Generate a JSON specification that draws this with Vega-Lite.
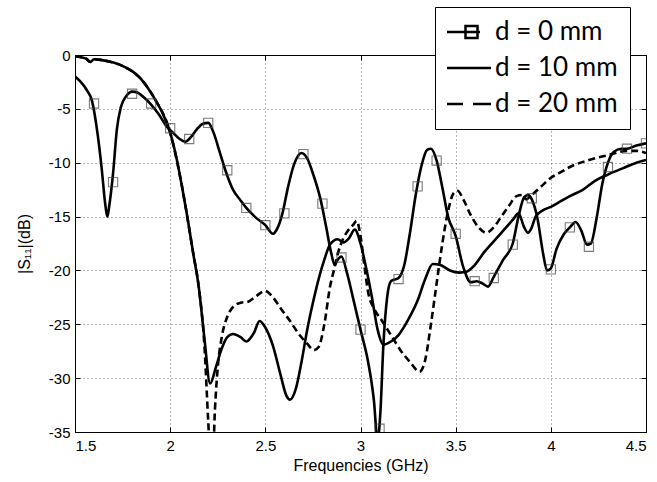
{
  "$schema": "https://vega.github.io/schema/vega-lite/v6.json",
  "width": 571,
  "height": 377,
  "autosize": {"type": "none"},
  "padding": {"left": 75, "top": 55, "right": 11, "bottom": 50},
  "background": "white",
  "config": {
    "view": {"stroke": "black", "strokeWidth": 1},
    "axis": {
      "labelFont": "Liberation Sans",
      "labelFontSize": 15,
      "labelColor": "black",
      "titleFont": "Liberation Sans",
      "titleFontSize": 16,
      "titleFontWeight": "normal",
      "titleColor": "black",
      "domainColor": "black",
      "tickColor": "black",
      "gridColor": "#666666",
      "gridDash": [1, 3],
      "gridOpacity": 1
    }
  },
  "datasets": {
    "solidCurves": [
      {"f": 1.5, "s11": -2.0, "series": "d = 0 mm"},
      {"f": 1.53, "s11": -2.5, "series": "d = 0 mm"},
      {"f": 1.56, "s11": -3.2, "series": "d = 0 mm"},
      {"f": 1.59, "s11": -4.3, "series": "d = 0 mm"},
      {"f": 1.62, "s11": -7.5, "series": "d = 0 mm"},
      {"f": 1.64, "s11": -10.5, "series": "d = 0 mm"},
      {"f": 1.66, "s11": -14.0, "series": "d = 0 mm"},
      {"f": 1.67, "s11": -15.0, "series": "d = 0 mm"},
      {"f": 1.68, "s11": -14.0, "series": "d = 0 mm"},
      {"f": 1.70, "s11": -11.0, "series": "d = 0 mm"},
      {"f": 1.72, "s11": -6.9, "series": "d = 0 mm"},
      {"f": 1.74, "s11": -4.9, "series": "d = 0 mm"},
      {"f": 1.77, "s11": -3.8, "series": "d = 0 mm"},
      {"f": 1.80, "s11": -3.4, "series": "d = 0 mm"},
      {"f": 1.83, "s11": -3.5, "series": "d = 0 mm"},
      {"f": 1.86, "s11": -3.9, "series": "d = 0 mm"},
      {"f": 1.90, "s11": -4.6, "series": "d = 0 mm"},
      {"f": 1.94, "s11": -5.5, "series": "d = 0 mm"},
      {"f": 1.98, "s11": -6.6, "series": "d = 0 mm"},
      {"f": 2.02, "s11": -7.3, "series": "d = 0 mm"},
      {"f": 2.05, "s11": -7.8, "series": "d = 0 mm"},
      {"f": 2.08, "s11": -8.05, "series": "d = 0 mm"},
      {"f": 2.11, "s11": -7.6, "series": "d = 0 mm"},
      {"f": 2.14, "s11": -6.9, "series": "d = 0 mm"},
      {"f": 2.17, "s11": -6.4, "series": "d = 0 mm"},
      {"f": 2.20, "s11": -6.3, "series": "d = 0 mm"},
      {"f": 2.23, "s11": -7.3, "series": "d = 0 mm"},
      {"f": 2.26, "s11": -9.0, "series": "d = 0 mm"},
      {"f": 2.29, "s11": -10.7, "series": "d = 0 mm"},
      {"f": 2.33, "s11": -12.5, "series": "d = 0 mm"},
      {"f": 2.37, "s11": -13.5, "series": "d = 0 mm"},
      {"f": 2.40, "s11": -14.2, "series": "d = 0 mm"},
      {"f": 2.45, "s11": -15.1, "series": "d = 0 mm"},
      {"f": 2.50, "s11": -15.8, "series": "d = 0 mm"},
      {"f": 2.54, "s11": -16.6, "series": "d = 0 mm"},
      {"f": 2.56, "s11": -16.2, "series": "d = 0 mm"},
      {"f": 2.59, "s11": -14.7, "series": "d = 0 mm"},
      {"f": 2.62, "s11": -12.2, "series": "d = 0 mm"},
      {"f": 2.65, "s11": -10.2, "series": "d = 0 mm"},
      {"f": 2.69, "s11": -9.1, "series": "d = 0 mm"},
      {"f": 2.72, "s11": -9.6, "series": "d = 0 mm"},
      {"f": 2.75, "s11": -11.0, "series": "d = 0 mm"},
      {"f": 2.79, "s11": -13.4, "series": "d = 0 mm"},
      {"f": 2.82, "s11": -16.0, "series": "d = 0 mm"},
      {"f": 2.845, "s11": -18.3, "series": "d = 0 mm"},
      {"f": 2.865, "s11": -19.5, "series": "d = 0 mm"},
      {"f": 2.88, "s11": -19.0, "series": "d = 0 mm"},
      {"f": 2.90, "s11": -18.7, "series": "d = 0 mm"},
      {"f": 2.93, "s11": -20.3, "series": "d = 0 mm"},
      {"f": 2.96, "s11": -22.5, "series": "d = 0 mm"},
      {"f": 3.00, "s11": -25.5, "series": "d = 0 mm"},
      {"f": 3.04, "s11": -28.5, "series": "d = 0 mm"},
      {"f": 3.07, "s11": -32.0, "series": "d = 0 mm"},
      {"f": 3.09, "s11": -35.8, "series": "d = 0 mm"},
      {"f": 3.105, "s11": -33.0, "series": "d = 0 mm"},
      {"f": 3.12, "s11": -27.0, "series": "d = 0 mm"},
      {"f": 3.14, "s11": -22.5, "series": "d = 0 mm"},
      {"f": 3.16, "s11": -21.0, "series": "d = 0 mm"},
      {"f": 3.20, "s11": -20.7, "series": "d = 0 mm"},
      {"f": 3.23, "s11": -19.5, "series": "d = 0 mm"},
      {"f": 3.26, "s11": -16.5, "series": "d = 0 mm"},
      {"f": 3.29, "s11": -13.0, "series": "d = 0 mm"},
      {"f": 3.32, "s11": -10.3, "series": "d = 0 mm"},
      {"f": 3.35, "s11": -8.8, "series": "d = 0 mm"},
      {"f": 3.37, "s11": -8.7, "series": "d = 0 mm"},
      {"f": 3.40, "s11": -9.8, "series": "d = 0 mm"},
      {"f": 3.43, "s11": -12.3, "series": "d = 0 mm"},
      {"f": 3.46, "s11": -15.0, "series": "d = 0 mm"},
      {"f": 3.50, "s11": -16.8, "series": "d = 0 mm"},
      {"f": 3.54, "s11": -19.7, "series": "d = 0 mm"},
      {"f": 3.58, "s11": -21.1, "series": "d = 0 mm"},
      {"f": 3.61, "s11": -21.0, "series": "d = 0 mm"},
      {"f": 3.64, "s11": -21.2, "series": "d = 0 mm"},
      {"f": 3.67, "s11": -21.5, "series": "d = 0 mm"},
      {"f": 3.70, "s11": -20.6, "series": "d = 0 mm"},
      {"f": 3.75, "s11": -19.0, "series": "d = 0 mm"},
      {"f": 3.80, "s11": -17.5, "series": "d = 0 mm"},
      {"f": 3.83, "s11": -15.0, "series": "d = 0 mm"},
      {"f": 3.86, "s11": -13.2, "series": "d = 0 mm"},
      {"f": 3.88, "s11": -13.0, "series": "d = 0 mm"},
      {"f": 3.90, "s11": -13.4, "series": "d = 0 mm"},
      {"f": 3.93, "s11": -15.2, "series": "d = 0 mm"},
      {"f": 3.96, "s11": -18.5, "series": "d = 0 mm"},
      {"f": 3.98, "s11": -20.0, "series": "d = 0 mm"},
      {"f": 4.00, "s11": -19.8, "series": "d = 0 mm"},
      {"f": 4.03, "s11": -18.0, "series": "d = 0 mm"},
      {"f": 4.07, "s11": -16.6, "series": "d = 0 mm"},
      {"f": 4.10, "s11": -16.0, "series": "d = 0 mm"},
      {"f": 4.13, "s11": -15.5, "series": "d = 0 mm"},
      {"f": 4.16, "s11": -16.3, "series": "d = 0 mm"},
      {"f": 4.19, "s11": -17.6, "series": "d = 0 mm"},
      {"f": 4.21, "s11": -17.5, "series": "d = 0 mm"},
      {"f": 4.24, "s11": -15.2, "series": "d = 0 mm"},
      {"f": 4.27, "s11": -12.0, "series": "d = 0 mm"},
      {"f": 4.30, "s11": -10.0, "series": "d = 0 mm"},
      {"f": 4.33, "s11": -9.0, "series": "d = 0 mm"},
      {"f": 4.37, "s11": -8.7, "series": "d = 0 mm"},
      {"f": 4.40, "s11": -8.7, "series": "d = 0 mm"},
      {"f": 4.45, "s11": -8.4, "series": "d = 0 mm"},
      {"f": 4.50, "s11": -8.2, "series": "d = 0 mm"},

      {"f": 1.5, "s11": -0.1, "series": "d = 10 mm"},
      {"f": 1.53, "s11": -0.2, "series": "d = 10 mm"},
      {"f": 1.56, "s11": -0.35, "series": "d = 10 mm"},
      {"f": 1.58, "s11": -0.65, "series": "d = 10 mm"},
      {"f": 1.60, "s11": -0.4, "series": "d = 10 mm"},
      {"f": 1.63, "s11": -0.45, "series": "d = 10 mm"},
      {"f": 1.68, "s11": -0.6, "series": "d = 10 mm"},
      {"f": 1.72, "s11": -0.8, "series": "d = 10 mm"},
      {"f": 1.76, "s11": -1.1, "series": "d = 10 mm"},
      {"f": 1.80, "s11": -1.5, "series": "d = 10 mm"},
      {"f": 1.84, "s11": -2.1, "series": "d = 10 mm"},
      {"f": 1.88, "s11": -3.0, "series": "d = 10 mm"},
      {"f": 1.92, "s11": -4.1, "series": "d = 10 mm"},
      {"f": 1.96, "s11": -5.4, "series": "d = 10 mm"},
      {"f": 2.00, "s11": -7.2, "series": "d = 10 mm"},
      {"f": 2.03, "s11": -9.3, "series": "d = 10 mm"},
      {"f": 2.06, "s11": -12.0, "series": "d = 10 mm"},
      {"f": 2.09, "s11": -15.0, "series": "d = 10 mm"},
      {"f": 2.12, "s11": -18.3, "series": "d = 10 mm"},
      {"f": 2.15, "s11": -21.5, "series": "d = 10 mm"},
      {"f": 2.18, "s11": -26.3, "series": "d = 10 mm"},
      {"f": 2.21, "s11": -30.5, "series": "d = 10 mm"},
      {"f": 2.24, "s11": -29.0, "series": "d = 10 mm"},
      {"f": 2.27, "s11": -27.3, "series": "d = 10 mm"},
      {"f": 2.30, "s11": -26.2, "series": "d = 10 mm"},
      {"f": 2.33, "s11": -25.9, "series": "d = 10 mm"},
      {"f": 2.37, "s11": -26.2, "series": "d = 10 mm"},
      {"f": 2.40, "s11": -26.6, "series": "d = 10 mm"},
      {"f": 2.44, "s11": -25.8, "series": "d = 10 mm"},
      {"f": 2.47, "s11": -24.7, "series": "d = 10 mm"},
      {"f": 2.50, "s11": -25.3, "series": "d = 10 mm"},
      {"f": 2.54, "s11": -27.0, "series": "d = 10 mm"},
      {"f": 2.58, "s11": -29.7, "series": "d = 10 mm"},
      {"f": 2.61, "s11": -31.6, "series": "d = 10 mm"},
      {"f": 2.63, "s11": -32.0, "series": "d = 10 mm"},
      {"f": 2.66, "s11": -31.0, "series": "d = 10 mm"},
      {"f": 2.69, "s11": -28.5, "series": "d = 10 mm"},
      {"f": 2.72, "s11": -25.5, "series": "d = 10 mm"},
      {"f": 2.75, "s11": -23.0, "series": "d = 10 mm"},
      {"f": 2.78, "s11": -20.8, "series": "d = 10 mm"},
      {"f": 2.81, "s11": -19.0, "series": "d = 10 mm"},
      {"f": 2.84, "s11": -17.6, "series": "d = 10 mm"},
      {"f": 2.88, "s11": -17.1, "series": "d = 10 mm"},
      {"f": 2.91, "s11": -17.4, "series": "d = 10 mm"},
      {"f": 2.94, "s11": -17.0, "series": "d = 10 mm"},
      {"f": 2.97, "s11": -16.2, "series": "d = 10 mm"},
      {"f": 3.00, "s11": -17.5, "series": "d = 10 mm"},
      {"f": 3.03, "s11": -19.8, "series": "d = 10 mm"},
      {"f": 3.06, "s11": -22.5, "series": "d = 10 mm"},
      {"f": 3.09, "s11": -25.5, "series": "d = 10 mm"},
      {"f": 3.12, "s11": -26.9, "series": "d = 10 mm"},
      {"f": 3.16, "s11": -26.6, "series": "d = 10 mm"},
      {"f": 3.20, "s11": -26.0, "series": "d = 10 mm"},
      {"f": 3.25, "s11": -24.6, "series": "d = 10 mm"},
      {"f": 3.30, "s11": -22.8, "series": "d = 10 mm"},
      {"f": 3.34, "s11": -20.8, "series": "d = 10 mm"},
      {"f": 3.38, "s11": -19.4, "series": "d = 10 mm"},
      {"f": 3.42, "s11": -19.5, "series": "d = 10 mm"},
      {"f": 3.47, "s11": -20.0, "series": "d = 10 mm"},
      {"f": 3.52, "s11": -20.2, "series": "d = 10 mm"},
      {"f": 3.56, "s11": -20.1, "series": "d = 10 mm"},
      {"f": 3.60, "s11": -19.5, "series": "d = 10 mm"},
      {"f": 3.65, "s11": -18.3, "series": "d = 10 mm"},
      {"f": 3.70, "s11": -17.3, "series": "d = 10 mm"},
      {"f": 3.75, "s11": -16.3, "series": "d = 10 mm"},
      {"f": 3.80, "s11": -15.3, "series": "d = 10 mm"},
      {"f": 3.83, "s11": -14.7, "series": "d = 10 mm"},
      {"f": 3.86, "s11": -16.0, "series": "d = 10 mm"},
      {"f": 3.88, "s11": -16.5, "series": "d = 10 mm"},
      {"f": 3.90, "s11": -16.0, "series": "d = 10 mm"},
      {"f": 3.92, "s11": -15.0, "series": "d = 10 mm"},
      {"f": 3.96, "s11": -14.4, "series": "d = 10 mm"},
      {"f": 4.00, "s11": -14.1, "series": "d = 10 mm"},
      {"f": 4.05, "s11": -13.6, "series": "d = 10 mm"},
      {"f": 4.10, "s11": -13.1, "series": "d = 10 mm"},
      {"f": 4.17, "s11": -12.5, "series": "d = 10 mm"},
      {"f": 4.23, "s11": -11.7, "series": "d = 10 mm"},
      {"f": 4.30, "s11": -11.1, "series": "d = 10 mm"},
      {"f": 4.38, "s11": -10.5, "series": "d = 10 mm"},
      {"f": 4.45, "s11": -10.0, "series": "d = 10 mm"},
      {"f": 4.50, "s11": -9.75, "series": "d = 10 mm"}
    ],
    "dashedCurve": [
      {"f": 1.5, "s11": -0.1, "series": "d = 20 mm"},
      {"f": 1.56, "s11": -0.35, "series": "d = 20 mm"},
      {"f": 1.58, "s11": -0.65, "series": "d = 20 mm"},
      {"f": 1.60, "s11": -0.4, "series": "d = 20 mm"},
      {"f": 1.68, "s11": -0.6, "series": "d = 20 mm"},
      {"f": 1.76, "s11": -1.1, "series": "d = 20 mm"},
      {"f": 1.84, "s11": -2.1, "series": "d = 20 mm"},
      {"f": 1.92, "s11": -4.1, "series": "d = 20 mm"},
      {"f": 2.00, "s11": -7.2, "series": "d = 20 mm"},
      {"f": 2.06, "s11": -12.0, "series": "d = 20 mm"},
      {"f": 2.12, "s11": -18.3, "series": "d = 20 mm"},
      {"f": 2.15, "s11": -21.5, "series": "d = 20 mm"},
      {"f": 2.18, "s11": -27.0, "series": "d = 20 mm"},
      {"f": 2.20, "s11": -34.0, "series": "d = 20 mm"},
      {"f": 2.21, "s11": -37.0, "series": "d = 20 mm"},
      {"f": 2.225, "s11": -37.0, "series": "d = 20 mm"},
      {"f": 2.235, "s11": -33.0, "series": "d = 20 mm"},
      {"f": 2.25, "s11": -29.0, "series": "d = 20 mm"},
      {"f": 2.27, "s11": -26.3, "series": "d = 20 mm"},
      {"f": 2.30, "s11": -24.3, "series": "d = 20 mm"},
      {"f": 2.33, "s11": -23.4, "series": "d = 20 mm"},
      {"f": 2.37, "s11": -23.0, "series": "d = 20 mm"},
      {"f": 2.41, "s11": -22.9, "series": "d = 20 mm"},
      {"f": 2.45, "s11": -22.4, "series": "d = 20 mm"},
      {"f": 2.50, "s11": -21.9, "series": "d = 20 mm"},
      {"f": 2.54, "s11": -22.5, "series": "d = 20 mm"},
      {"f": 2.58, "s11": -23.5, "series": "d = 20 mm"},
      {"f": 2.63, "s11": -24.7, "series": "d = 20 mm"},
      {"f": 2.68, "s11": -26.0, "series": "d = 20 mm"},
      {"f": 2.72, "s11": -26.8, "series": "d = 20 mm"},
      {"f": 2.755, "s11": -27.4, "series": "d = 20 mm"},
      {"f": 2.78, "s11": -27.1, "series": "d = 20 mm"},
      {"f": 2.81, "s11": -25.0, "series": "d = 20 mm"},
      {"f": 2.84, "s11": -21.5, "series": "d = 20 mm"},
      {"f": 2.86, "s11": -20.0, "series": "d = 20 mm"},
      {"f": 2.88, "s11": -18.5, "series": "d = 20 mm"},
      {"f": 2.91, "s11": -17.0, "series": "d = 20 mm"},
      {"f": 2.93, "s11": -16.4, "series": "d = 20 mm"},
      {"f": 2.96, "s11": -15.8, "series": "d = 20 mm"},
      {"f": 2.98, "s11": -15.4, "series": "d = 20 mm"},
      {"f": 3.00, "s11": -16.8, "series": "d = 20 mm"},
      {"f": 3.02, "s11": -19.5, "series": "d = 20 mm"},
      {"f": 3.04, "s11": -22.0, "series": "d = 20 mm"},
      {"f": 3.07, "s11": -23.5, "series": "d = 20 mm"},
      {"f": 3.11, "s11": -24.6, "series": "d = 20 mm"},
      {"f": 3.16, "s11": -26.0, "series": "d = 20 mm"},
      {"f": 3.21, "s11": -27.4, "series": "d = 20 mm"},
      {"f": 3.26, "s11": -28.5, "series": "d = 20 mm"},
      {"f": 3.31, "s11": -29.4, "series": "d = 20 mm"},
      {"f": 3.34, "s11": -28.3, "series": "d = 20 mm"},
      {"f": 3.37, "s11": -25.0, "series": "d = 20 mm"},
      {"f": 3.40, "s11": -21.2, "series": "d = 20 mm"},
      {"f": 3.43, "s11": -17.5, "series": "d = 20 mm"},
      {"f": 3.46, "s11": -14.5, "series": "d = 20 mm"},
      {"f": 3.49, "s11": -12.8, "series": "d = 20 mm"},
      {"f": 3.51, "s11": -12.6, "series": "d = 20 mm"},
      {"f": 3.54, "s11": -13.4, "series": "d = 20 mm"},
      {"f": 3.58, "s11": -14.9, "series": "d = 20 mm"},
      {"f": 3.62, "s11": -16.0, "series": "d = 20 mm"},
      {"f": 3.66, "s11": -16.5, "series": "d = 20 mm"},
      {"f": 3.70, "s11": -16.0, "series": "d = 20 mm"},
      {"f": 3.74, "s11": -15.0, "series": "d = 20 mm"},
      {"f": 3.78, "s11": -14.0, "series": "d = 20 mm"},
      {"f": 3.82, "s11": -13.1, "series": "d = 20 mm"},
      {"f": 3.85, "s11": -13.0, "series": "d = 20 mm"},
      {"f": 3.87, "s11": -13.4, "series": "d = 20 mm"},
      {"f": 3.90, "s11": -13.0, "series": "d = 20 mm"},
      {"f": 3.95, "s11": -12.2, "series": "d = 20 mm"},
      {"f": 4.00, "s11": -11.4, "series": "d = 20 mm"},
      {"f": 4.05, "s11": -10.9, "series": "d = 20 mm"},
      {"f": 4.10, "s11": -10.4, "series": "d = 20 mm"},
      {"f": 4.19, "s11": -9.8, "series": "d = 20 mm"},
      {"f": 4.30, "s11": -9.3, "series": "d = 20 mm"},
      {"f": 4.40, "s11": -8.9, "series": "d = 20 mm"},
      {"f": 4.45, "s11": -8.9, "series": "d = 20 mm"},
      {"f": 4.50, "s11": -9.1, "series": "d = 20 mm"}
    ],
    "markers": [
      {"f": 1.6, "s11": -4.5},
      {"f": 1.7, "s11": -11.8},
      {"f": 1.8, "s11": -3.6},
      {"f": 1.9, "s11": -4.5},
      {"f": 2.0, "s11": -6.8},
      {"f": 2.1, "s11": -7.8},
      {"f": 2.2, "s11": -6.3},
      {"f": 2.3, "s11": -10.7},
      {"f": 2.4, "s11": -14.2},
      {"f": 2.5, "s11": -15.8},
      {"f": 2.6, "s11": -14.7},
      {"f": 2.7, "s11": -9.2},
      {"f": 2.8, "s11": -13.8},
      {"f": 2.9, "s11": -18.8},
      {"f": 3.0, "s11": -25.5},
      {"f": 3.1, "s11": -34.7},
      {"f": 3.2, "s11": -20.8},
      {"f": 3.3, "s11": -12.2},
      {"f": 3.4, "s11": -9.8},
      {"f": 3.5, "s11": -16.6},
      {"f": 3.6, "s11": -21.0},
      {"f": 3.7, "s11": -20.7},
      {"f": 3.8, "s11": -17.6},
      {"f": 3.9, "s11": -13.3},
      {"f": 4.0, "s11": -19.9},
      {"f": 4.1, "s11": -16.0},
      {"f": 4.2, "s11": -17.8},
      {"f": 4.3, "s11": -10.4},
      {"f": 4.4, "s11": -8.7},
      {"f": 4.5, "s11": -8.2}
    ],
    "legendItems": [
      {"series": "d = 0 mm"},
      {"series": "d = 10 mm"},
      {"series": "d = 20 mm"}
    ]
  },
  "layer": [
    {
      "data": {"name": "solidCurves"},
      "mark": {"type": "line", "color": "black", "strokeWidth": 2.6, "clip": true, "interpolate": "monotone"},
      "encoding": {
        "x": {
          "field": "f", "type": "quantitative",
          "scale": {"domain": [1.5, 4.5], "nice": false, "zero": false},
          "axis": {
            "title": "Frequencies (GHz)",
            "values": [1.5, 2, 2.5, 3, 3.5, 4, 4.5],
            "labelExpr": "'' + datum.value",
            "grid": true,
            "tickSize": -5,
            "labelPadding": 11,
            "titlePadding": 4
          }
        },
        "y": {
          "field": "s11", "type": "quantitative",
          "scale": {"domain": [-35, 0], "nice": false, "zero": false},
          "axis": {
            "title": "|S₁₁|(dB)",
            "values": [-35, -30, -25, -20, -15, -10, -5, 0],
            "labelExpr": "'' + datum.value",
            "grid": true,
            "tickSize": -5,
            "labelPadding": 10,
            "titlePadding": 16
          }
        },
        "detail": {"field": "series", "type": "nominal"}
      }
    },
    {
      "data": {"name": "dashedCurve"},
      "mark": {"type": "line", "color": "black", "strokeWidth": 2.6, "strokeDash": [7, 4], "clip": true, "interpolate": "monotone"},
      "encoding": {
        "x": {"field": "f", "type": "quantitative", "axis": null},
        "y": {"field": "s11", "type": "quantitative", "axis": null}
      }
    },
    {
      "data": {"name": "markers"},
      "mark": {"type": "point", "shape": "square", "filled": false, "color": "#444444", "strokeWidth": 1.1, "size": 85, "clip": true},
      "encoding": {
        "x": {"field": "f", "type": "quantitative", "axis": {"orient": "top", "labels": false, "grid": false, "tickSize": -5, "title": null, "values": [1.5, 2, 2.5, 3, 3.5, 4, 4.5]}},
        "y": {"field": "s11", "type": "quantitative", "axis": {"orient": "right", "labels": false, "grid": false, "tickSize": -5, "title": null, "values": [-35, -30, -25, -20, -15, -10, -5, 0]}}
      }
    },
    {
      "data": {"name": "legendItems"},
      "mark": {"type": "point", "filled": false, "color": "black", "size": 0},
      "encoding": {
        "shape": {
          "field": "series", "type": "nominal",
          "scale": {
            "domain": ["d = 0 mm", "d = 10 mm", "d = 20 mm"],
            "range": [
              "M-1.3,0H2.0M0.55,-0.6H1.75V0.6H0.55Z",
              "M-1.3,0H3.1",
              "M-1.3,0H0.3M1.3,0H3.1"
            ]
          },
          "legend": {
            "orient": "none",
            "legendX": 360,
            "legendY": -48,
            "title": null,
            "fillColor": "white",
            "strokeColor": "black",
            "padding": 12,
            "rowPadding": 10,
            "symbolSize": 400,
            "symbolStrokeWidth": 2.5,
            "symbolStrokeColor": "black",
            "symbolFillColor": "transparent",
            "symbolOpacity": 1,
            "labelOffset": 22,
            "labelFont": "Lato",
            "labelFontSize": 26,
            "labelColor": "black",
            "labelExpr": "datum.label + '\u00a0\u00a0\u00a0'"
          }
        }
      }
    }
  ],
  "resolve": {"axis": {"x": "independent", "y": "independent"}}
}
